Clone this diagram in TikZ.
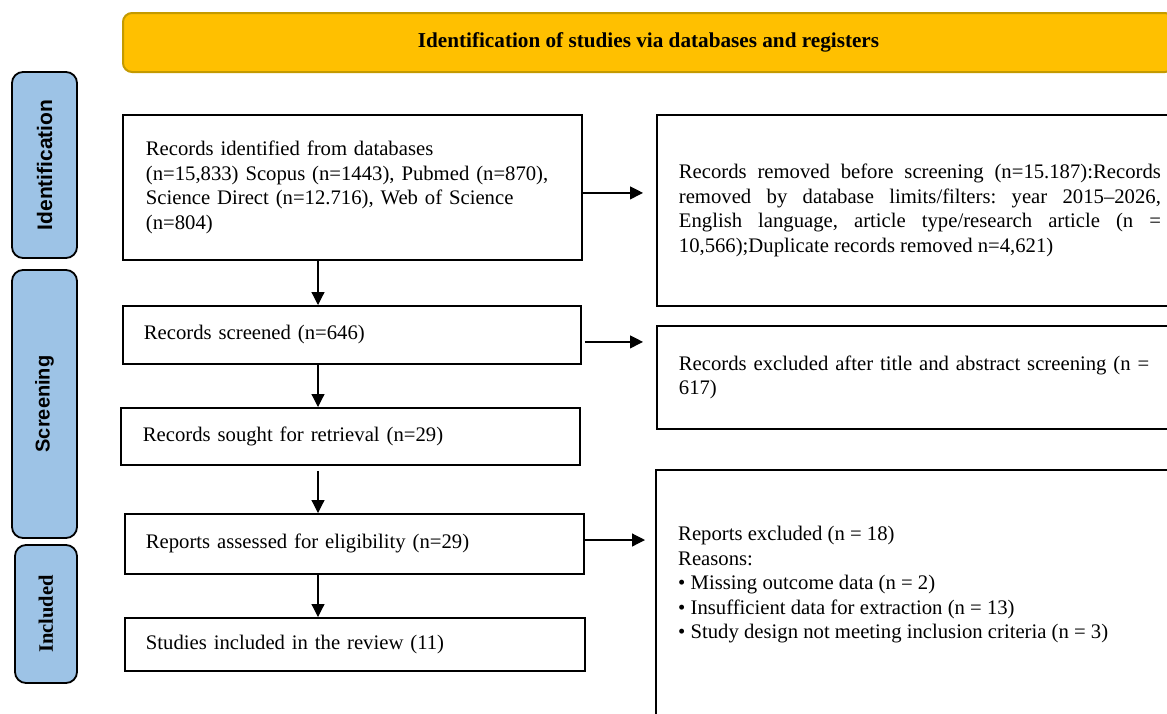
\documentclass[tikz,border=0pt]{standalone}
\usepackage{fontspec}
\setmainfont{Liberation Serif}
\newfontfamily\arialfont{Liberation Sans}
\usetikzlibrary{arrows.meta}
\definecolor{bannerfill}{HTML}{FFC000}
\definecolor{bannerline}{HTML}{C49A00}
\definecolor{phasefill}{HTML}{9DC3E6}
\tikzset{
  txt/.style={font=\fontsize{20.7}{24.5}\selectfont\frenchspacing},
  lbox/.style={txt, draw, line width=1.8pt, rectangle, align=left, anchor=north west, inner ysep=0pt},
  rbox/.style={txt, draw, line width=1.8pt, rectangle, anchor=north west, inner xsep=22pt, text width=482pt, inner ysep=0pt},
  phase/.style={draw, fill=phasefill, line width=1.8pt, rounded corners=11pt, rotate=90, inner sep=0pt},
  arr/.style={-{Triangle[length=13pt,width=13pt]}, line width=1.2pt},
}
\begin{document}
\begin{tikzpicture}[x=1pt,y=-1pt]
\useasboundingbox (0,0) rectangle (1167,713);
\clip (0,0) rectangle (1167,713);
\fill[white] (0,0) rectangle (1167,713);

% banner
\node[draw=bannerline, fill=bannerfill, line width=2pt, rounded corners=9pt,
      minimum width=1051pt, minimum height=59pt, anchor=west,
      font=\fontsize{21.2}{24}\selectfont\bfseries] (banner) at (122,42.5)
      {Identification of studies via databases and registers};

% phases
\node[phase, minimum width=186pt, minimum height=65pt, font=\arialfont\bfseries\fontsize{21}{22}\selectfont] (pid) at (44.5,165) {Identification};
\node[phase, minimum width=268pt, minimum height=65pt, font=\arialfont\bfseries\fontsize{20}{20}\selectfont] (psc) at (44.5,404) {Screening};
\node[phase, minimum width=138pt, minimum height=62pt, font=\bfseries\fontsize{20.5}{22}\selectfont] (pin) at (46,614) {Included};

% left column
\node[lbox, minimum width=459pt, minimum height=145pt, inner xsep=23pt, text width=413pt] (b1) at (122,114)
  {Records identified from databases\\(n=15,833) Scopus (n=1443), Pubmed (n=870),\\Science Direct (n=12.716), Web of Science\\(n=804)};
\node[lbox, minimum width=458pt, minimum height=58pt, inner xsep=21pt, text width=416pt] (b2) at (122,305)
  {Records screened (n=646)};
\node[lbox, minimum width=459pt, minimum height=57pt, inner xsep=22pt, text width=415pt] (b3) at (120,407)
  {Records sought for retrieval (n=29)};
\node[lbox, minimum width=459pt, minimum height=60pt, inner xsep=21pt, text width=417pt] (b4) at (124,513)
  {Reports assessed for eligibility (n=29)};
\node[lbox, minimum width=460pt, minimum height=53pt, inner xsep=21pt, text width=418pt] (b5) at (124,617)
  {Studies included in the review (11)};

% right column
\node[rbox, align=justify, minimum height=191pt] (r1) at (656,114)
  {Records removed before screening (n=15.187):Records\linebreak
   removed by database limits/filters: year 2015--2026,\linebreak
   English language, article type/research article (n =\linebreak
   10,566);Duplicate records removed n=4,621)};
\node[rbox, align=left, minimum height=103pt] (r2) at (656,325)
  {Records excluded after title and abstract screening (n =\\617)};
\draw[line width=1.8pt] (656,470) rectangle (1190,760);
\node[txt, align=left, anchor=west, inner sep=0pt] (r3) at (678,585)
  {Reports excluded (n = 18)\\Reasons:\\\textbullet{} Missing outcome data (n = 2)\\\textbullet{} Insufficient data for extraction (n = 13)\\\textbullet{} Study design not meeting inclusion criteria (n = 3)};
\coordinate (r3w) at (645,540);

% connectors
\coordinate (ax) at (318,0);
\draw[arr] (b1.south -| ax) -- (b2.north -| ax);
\draw[arr] (b2.south -| ax) -- (b3.north -| ax);
\draw[arr, shorten <=5pt] (b3.south -| ax) -- (b4.north -| ax);
\draw[arr] (b4.south -| ax) -- (b5.north -| ax);

\draw[arr, shorten >=13pt] ([yshift=-5.5pt]b1.east) -- ([yshift=-5.5pt]b1.east -| r1.west);
\draw[arr, shorten <=3pt, shorten >=13pt] ([yshift=-7pt]b2.east) -- ([yshift=-7pt]b2.east -| r2.west);
\draw[arr] (b4.east |- r3w) -- (r3w);
\end{tikzpicture}
\end{document}
